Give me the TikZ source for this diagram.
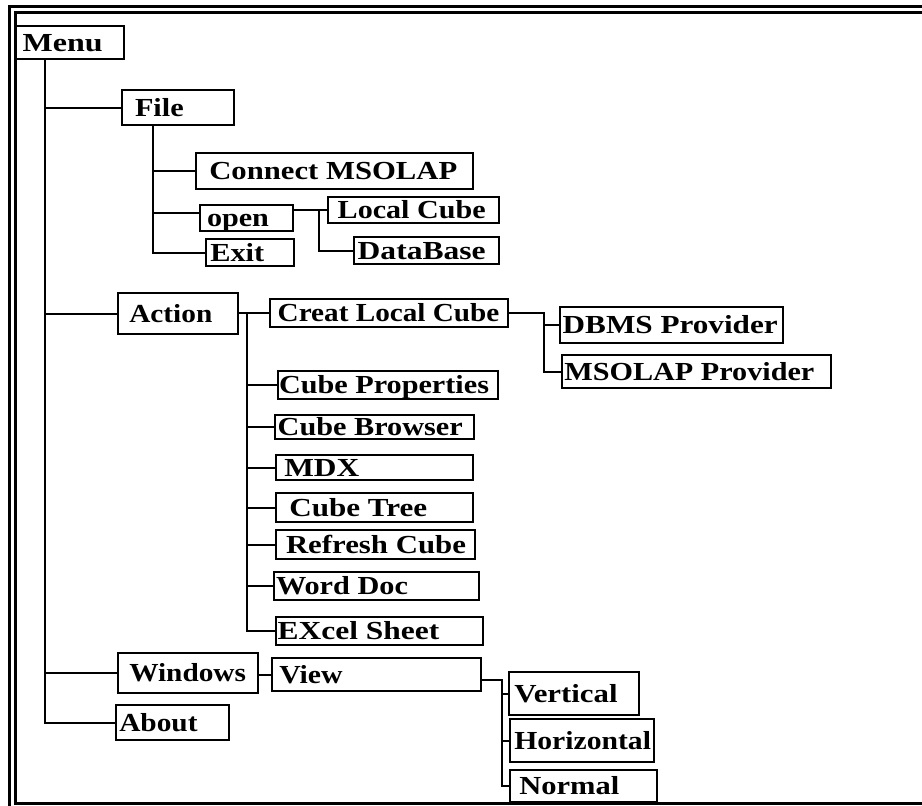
\documentclass[tikz,border=0pt]{standalone}
\usepackage{fontspec}
\usepackage{graphicx}
\setmainfont{Liberation Serif}
\newcommand{\tx}[4]{\makebox[#1pt][l]{\hspace*{#2pt}\smash{\resizebox{#3pt}{\height}{#4}}\rule{0pt}{17pt}}}
\tikzset{
  menubox/.style={draw, line width=2pt, inner sep=0pt, anchor=north west,
    font=\fontsize{26}{30}\selectfont\bfseries},
  conn/.style={line width=2pt},
  frame/.style={line width=2.6pt}
}
\begin{document}
\begin{tikzpicture}[x=1pt,y=-1pt]
\useasboundingbox (0,0) rectangle (922,806);
% frame
\draw[frame] (922,12.3) -- (15.3,12.3) -- (15.3,803.5) -- (922,803.5);
\draw[frame] (922,6.2) -- (9.3,6.2) -- (9.3,806);
% nodes
\node[menubox, minimum height=33pt] (menu) at (14,25) {\tx{109}{7.7}{80}{Menu}};
\node[menubox, minimum height=35pt] (file) at (121,89) {\tx{112}{13}{48.7}{File}};
\node[menubox, minimum height=36pt] (connect) at (195,152) {\tx{277}{13.3}{248}{Connect MSOLAP}};
\node[menubox, minimum height=26pt] (open) at (199,204) {\tx{93}{7}{62}{open}};
\node[menubox, minimum height=27pt] (exit) at (205,238) {\tx{88}{4.3}{54}{Exit}};
\node[menubox, minimum height=26pt] (localcube) at (327,196) {\tx{171}{9.7}{148}{Local Cube}};
\node[menubox, minimum height=27pt] (database) at (353,236) {\tx{145}{3.7}{128}{DataBase}};
\node[menubox, minimum height=41pt] (action) at (117,292) {\tx{120}{11.3}{83}{Action}};
\node[menubox, minimum height=28pt] (clc) at (269,298) {\tx{238}{7.7}{221.7}{Creat Local Cube}};
\node[menubox, minimum height=36pt] (dbms) at (559,306) {\tx{223}{2.7}{215}{DBMS Provider}};
\node[menubox, minimum height=33pt] (msolap) at (561,354) {\tx{269}{2.3}{250}{MSOLAP Provider}};
\node[menubox, minimum height=28pt] (cprop) at (277,370) {\tx{220}{1}{210}{Cube Properties}};
\node[menubox, minimum height=24pt] (cbrowser) at (274,414) {\tx{199}{2.7}{185}{Cube Browser}};
\node[menubox, minimum height=25pt] (mdx) at (275,454) {\tx{197}{8.3}{75}{MDX}};
\node[menubox, minimum height=29pt] (ctree) at (275,492) {\tx{197}{13.3}{138}{Cube Tree}};
\node[menubox, minimum height=29pt] (refresh) at (275,529) {\tx{199}{10}{180}{Refresh Cube}};
\node[menubox, minimum height=28pt] (word) at (273,571) {\tx{205}{2}{132}{Word Doc}};
\node[menubox, minimum height=28pt] (excel) at (275,616) {\tx{207}{1.7}{161.7}{EXcel Sheet}};
\node[menubox, minimum height=40pt] (windows) at (117,652) {\tx{140}{11.3}{116.7}{Windows}};
\node[menubox, minimum height=33pt] (view) at (271,657) {\tx{209}{7.3}{63.3}{View}};
\node[menubox, minimum height=35pt] (about) at (115,704) {\tx{113}{3.3}{78.3}{About}};
\node[menubox, minimum height=43pt] (vertical) at (508,671) {\tx{130}{5.3}{103.3}{Vertical}};
\node[menubox, minimum height=43pt] (horizontal) at (509,718) {\tx{144}{4.3}{136.7}{Horizontal}};
\node[menubox, minimum height=32pt] (normal) at (509,769) {\tx{147}{9.3}{100}{Normal}};
% main trunk
\coordinate (t0) at ([xshift=31pt]menu.south west);
\draw[conn] (t0) |- (about.west);
\draw[conn] (t0 |- file.west) -- (file.west);
\draw[conn] (t0 |- action.west) -- (action.west);
\draw[conn] (t0 |- windows.west) -- (windows.west);
% file branch
\coordinate (t1) at ([xshift=32pt]file.south west);
\coordinate (openin) at ([yshift=5pt]open.west);
\draw[conn] (t1) |- (exit.west);
\draw[conn] (t1 |- connect.west) -- (connect.west);
\draw[conn] (t1 |- openin) -- (openin);
\path (open.east |- localcube.west) ++(25pt,0) coordinate (oj);
\draw[conn] (open.east |- localcube.west) -- (localcube.west);
\draw[conn] (oj) |- (database.west);
% action branch
\draw[conn] (action.east |- clc.west) -- (clc.west);
\path (action.east |- clc.west) ++(8pt,0) coordinate (t2);
\draw[conn] (t2) |- (excel.west);
\draw[conn] (t2 |- cprop.west) -- (cprop.west);
\draw[conn] (t2 |- cbrowser.west) -- (cbrowser.west);
\draw[conn] (t2 |- mdx.west) -- (mdx.west);
\draw[conn] (t2 |- ctree.west) -- (ctree.west);
\draw[conn] (t2 |- refresh.west) -- (refresh.west);
\draw[conn] (t2 |- word.west) -- (word.west);
\path (clc.east) ++(35pt,0) coordinate (t3);
\draw[conn] (clc.east) -- (t3) |- (msolap.west);
\draw[conn] (t3 |- dbms.west) -- (dbms.west);
% windows branch
\draw[conn] (windows.east |- view.west) -- (view.west);
\path ([yshift=-5pt]view.east) coordinate (ve) ++(20pt,0) coordinate (t4);
\draw[conn] (ve) -- (t4) |- (normal.west);
\draw[conn] (t4 |- vertical.west) -- (vertical.west);
\draw[conn] (t4 |- horizontal.west) -- (horizontal.west);
\end{tikzpicture}
\end{document}
